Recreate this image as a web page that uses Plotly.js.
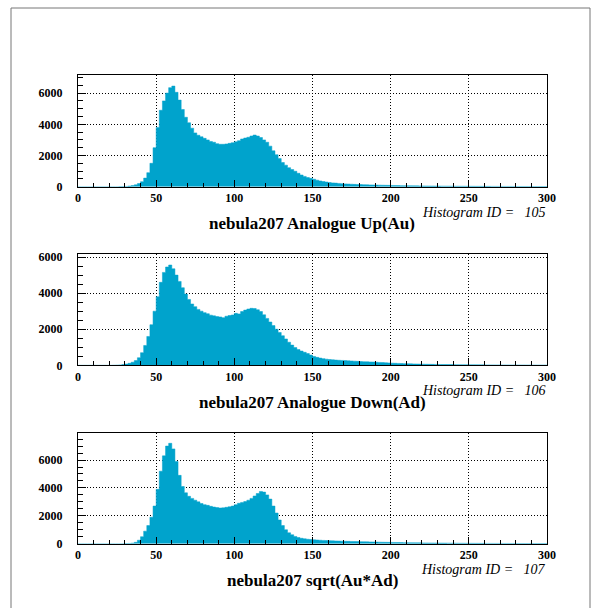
<!DOCTYPE html>
<html>
<head>
<meta charset="utf-8">
<script src="https://cdn.plot.ly/plotly-3.0.1.min.js"></script>
<style>html,body{margin:0;padding:0;background:#fff;}#chart{width:602px;height:608px;}</style>
</head>
<body>
<div id="chart"></div>
<script>
// Histogram bins: left edges 0,2,4,...,298 (bin width 2)
const binLow = 0, binHigh = 300, binWidth = 2;

const countsAu = [
  0,0,0,0,0,0,0,0,0,0,
  0,0,0,5,10,20,40,70,120,200,
  320,550,900,1500,2500,3800,4900,5500,6000,6350,
  6450,6050,5550,4950,4450,4100,3750,3450,3300,3200,
  3100,3000,2900,2850,2760,2720,2720,2740,2780,2820,
  2880,2950,3060,3120,3170,3250,3310,3250,3150,3000,
  2850,2600,2300,2050,1800,1550,1380,1220,1100,990,
  860,750,660,590,540,480,420,370,330,300,
  270,245,230,210,195,180,170,160,150,145,
  135,130,122,115,110,105,100,95,90,85,
  80,76,72,68,65,62,59,56,53,50,
  48,46,44,42,40,38,36,35,34,32,
  31,30,29,28,27,26,25,24,23,22,
  22,21,20,20,19,18,18,17,17,16,
  16,15,15,14,14,13,13,12,12,12
];

const countsAd = [
  0,0,0,0,0,0,0,0,0,0,
  0,5,10,20,40,70,110,170,260,420,
  700,1100,1600,2250,3000,3800,4600,5150,5450,5560,
  5350,5000,4650,4300,3950,3650,3400,3250,3100,3000,
  2920,2860,2780,2740,2700,2680,2640,2720,2760,2790,
  2880,2850,2980,3060,3120,3160,3150,3080,2980,2800,
  2600,2400,2200,2000,1820,1640,1460,1280,1120,980,
  870,790,720,650,570,490,440,400,370,340,
  320,305,290,280,270,260,250,240,230,220,
  210,200,195,185,180,170,160,150,140,130,
  120,112,105,98,92,86,80,75,70,66,
  62,58,55,52,49,46,44,42,40,38,
  36,34,32,31,30,28,27,26,25,24,
  23,22,21,20,20,19,18,18,17,16,
  16,15,15,14,14,13,13,12,12,12
];

const countsSqrt = [
  0,0,0,0,0,0,0,0,0,0,
  0,0,0,0,5,10,20,40,100,250,
  500,900,1300,1900,2700,3900,5200,6300,7000,7200,
  6800,5900,4900,4100,3650,3400,3250,3120,3000,2880,
  2800,2750,2680,2630,2590,2560,2570,2610,2650,2700,
  2800,2900,2960,3020,3120,3250,3420,3600,3750,3700,
  3500,3200,2700,2200,1700,1300,1000,780,640,520,
  440,390,350,320,300,280,265,250,235,225,
  215,205,198,190,182,175,168,162,156,150,
  144,138,132,126,120,115,110,105,100,96,
  92,88,84,80,76,72,69,66,63,60,
  57,54,52,50,48,46,44,42,40,38,
  36,34,32,31,30,28,27,26,25,24,
  23,22,21,20,20,19,18,18,17,16,
  16,15,15,14,14,13,13,12,12,12
];

const titles = ["nebula207 Analogue Up(Au)", "nebula207 Analogue Down(Ad)", "nebula207 sqrt(Au*Ad)"];
const histIds = ["105", "106", "107"];
const yMax = [7160, 6170, 7960];
const yTicks = [0, 2000, 4000, 6000];
const xTicks = [0, 50, 100, 150, 200, 250, 300];

const series = [countsAu, countsAd, countsSqrt];
const fillColor = "#00a3cc";
const W = 602, H = 608;
// pixel geometry of each panel (top, bottom)
const panelPx = [[75, 186.7], [254, 365.3], [432.7, 543.7]];
const plotLeft = 78, plotRight = 547;

function stepXY(counts) {
  const xs = [], ys = [];
  for (let i = 0; i < counts.length; i++) { xs.push(binLow + i * binWidth); ys.push(counts[i]); }
  xs.push(binHigh); ys.push(counts[counts.length - 1]);
  return {xs, ys};
}

const serif = "Liberation Serif, Times New Roman, serif";
const tickFont = {family: serif, size: 12, color: "#000", weight: "bold"};
const traces = [];
const layout = {
  width: W, height: H,
  margin: {l: 0, r: 0, t: 0, b: 0},
  paper_bgcolor: "#fff", plot_bgcolor: "#fff",
  showlegend: false,
  annotations: [],
  shapes: [{
    type: "rect", xref: "paper", yref: "paper",
    x0: 11 / W, x1: 590 / W, y0: -0.05, y1: 1 - 8 / H,
    line: {color: "#777", width: 1}
  }]
};

series.forEach((counts, k) => {
  const s = stepXY(counts);
  const suf = k === 0 ? "" : String(k + 1);
  traces.push({
    type: "scatter", mode: "lines",
    x: s.xs, y: s.ys,
    xaxis: "x" + suf, yaxis: "y" + suf,
    line: {shape: "hv", width: 0.5, color: fillColor},
    fill: "tozeroy", fillcolor: fillColor,
    hoverinfo: "skip"
  });
  const [top, bot] = panelPx[k];
  layout["xaxis" + suf] = {
    domain: [plotLeft / W, plotRight / W],
    anchor: "y" + suf,
    range: [binLow, binHigh],
    tickvals: xTicks, ticktext: xTicks.map(String),
    ticks: "inside", ticklen: 7, tickwidth: 1, tickcolor: "#000",
    minor: {dtick: 10, ticks: "inside", ticklen: 4, tickcolor: "#000", showgrid: false},
    showgrid: true, gridcolor: "#000", griddash: "1px,2px", gridwidth: 1,
    showline: true, linecolor: "#000", linewidth: 1, mirror: true,
    zeroline: false,
    tickfont: tickFont,
    ticklabelstandoff: 0,
    fixedrange: true
  };
  layout["yaxis" + suf] = {
    domain: [1 - bot / H, 1 - top / H],
    anchor: "x" + suf,
    range: [0, yMax[k]],
    tickvals: yTicks, ticktext: yTicks.map(String),
    ticks: "inside", ticklen: 8, tickwidth: 1, tickcolor: "#000",
    minor: {dtick: 500, ticks: "inside", ticklen: 5, tickcolor: "#000", showgrid: false},
    showgrid: true, gridcolor: "#000", griddash: "1px,2px", gridwidth: 1,
    showline: true, linecolor: "#000", linewidth: 1, mirror: true,
    zeroline: false,
    tickfont: tickFont,
    ticklabelstandoff: 12,
    fixedrange: true
  };
  layout.annotations.push({
    xref: "paper", yref: "paper",
    x: 312 / W, y: 1 - (bot + 43 - 6) / H,
    xanchor: "center", yanchor: "middle",
    text: titles[k], showarrow: false,
    font: {family: serif, size: 17, color: "#000", weight: "bold"}
  });
  layout.annotations.push({
    xref: "paper", yref: "paper",
    x: 548 / W, y: 1 - (bot + 30 - 4.5) / H,
    xanchor: "right", yanchor: "middle",
    text: "Histogram ID =\u00a0\u00a0\u00a0" + histIds[k], showarrow: false,
    font: {family: serif, size: 14, color: "#000", style: "italic"}
  });
});

Plotly.newPlot("chart", traces, layout, {staticPlot: true, displayModeBar: false});
</script>
</body>
</html>
